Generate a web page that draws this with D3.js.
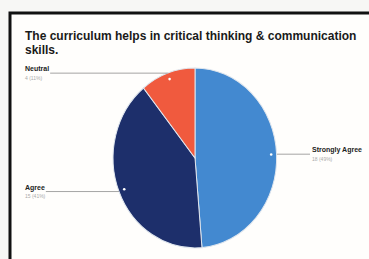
<!DOCTYPE html>
<html>
<head>
<meta charset="utf-8">
<script src="https://cdn.jsdelivr.net/npm/d3@7"></script>
<style>
  body { margin: 0; background: #f7f7f5; }
  svg { display: block; font-family: "Liberation Sans", Arial, sans-serif; }
</style>
</head>
<body>
<svg id="chart"></svg>
<script>
const titleLines = ["The curriculum helps in critical thinking & communication", "skills."];
const categories = ["Strongly Agree", "Agree", "Neutral"];
const counts = [18, 15, 4];
const colors = ["#4389d0", "#1d2f6b", "#f05a3e"];

const width = 369, height = 259;
const cx = 195, cy = 158, rx = 82, ry = 90;

const svg = d3.select("#chart").attr("width", width).attr("height", height);

// card with black frame
svg.append("rect")
  .attr("x", 10).attr("y", 13)
  .attr("width", 380).attr("height", 260)
  .attr("fill", "#fffefc")
  .attr("stroke", "#111")
  .attr("stroke-width", 3);

svg.append("text")
  .attr("x", 25).attr("y", 40)
  .style("font-size", "12px")
  .style("font-weight", "bold")
  .style("fill", "#1a1a1a")
  .selectAll("tspan")
  .data(titleLines)
  .enter()
  .append("tspan")
  .attr("x", 25)
  .attr("dy", (d, i) => i ? 14 : 0)
  .text(d => d);

const total = d3.sum(counts);
const data = categories.map((c, i) => ({ name: c, value: counts[i], color: colors[i] }));

const pie = d3.pie().sort(null).value(d => d.value);
const arcs = pie(data);
const arc = d3.arc().innerRadius(0).outerRadius(1);

const g = svg.append("g")
  .attr("transform", `translate(${cx},${cy}) scale(${rx},${ry})`);

g.selectAll("path")
  .data(arcs)
  .enter()
  .append("path")
  .attr("d", arc)
  .attr("fill", d => d.data.color)
  .attr("stroke", "#dfe6ee")
  .attr("stroke-width", 0.012);

// leader lines + labels
const labelX = { "Strongly Agree": 312, "Agree": 25, "Neutral": 25 };

arcs.forEach(a => {
  const mid = (a.startAngle + a.endAngle) / 2;
  const px = cx + rx * Math.sin(mid);
  const py = cy - ry * Math.cos(mid);
  const right = Math.sin(mid) > 0;
  const lx = labelX[a.data.name];

  const name = svg.append("text")
    .attr("x", lx).attr("y", py - 2)
    .style("font-size", "7px")
    .style("font-weight", "bold")
    .style("fill", "#222")
    .text(a.data.name);
  const textEnd = lx + name.node().getComputedTextLength();

  svg.append("line")
    .attr("x1", px).attr("y1", py)
    .attr("x2", right ? lx - 2 : textEnd + 1).attr("y2", py)
    .attr("stroke", "#666")
    .attr("stroke-width", 0.6);

  svg.append("circle")
    .attr("cx", cx + rx * 0.93 * Math.sin(mid))
    .attr("cy", cy - ry * 0.93 * Math.cos(mid))
    .attr("r", 1.3)
    .attr("fill", "#fff");

  svg.append("text")
    .attr("x", lx).attr("y", py + 6.5)
    .style("font-size", "5px")
    .style("fill", "#aaa")
    .text(`${a.data.value} (${Math.round(a.data.value / total * 100)}%)`);
});
</script>
</body>
</html>
